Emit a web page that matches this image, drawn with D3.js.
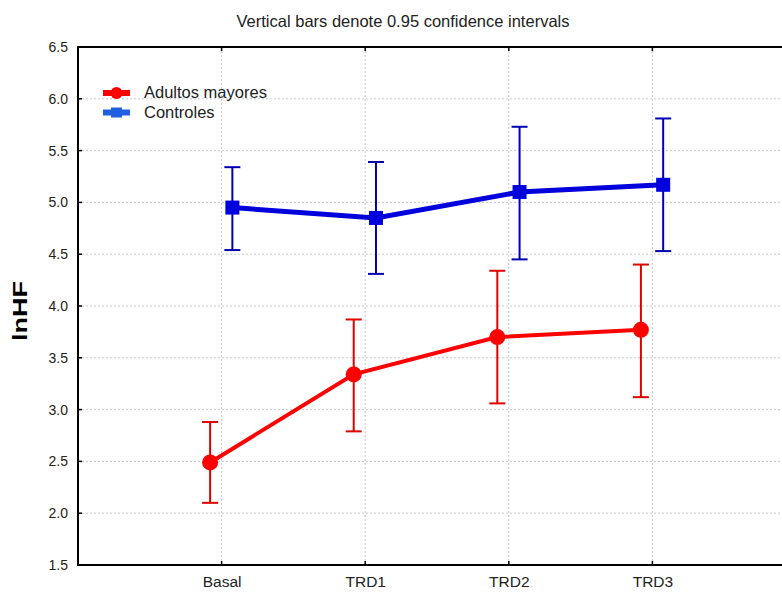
<!DOCTYPE html>
<html>
<head>
<meta charset="utf-8">
<script src="https://cdn.jsdelivr.net/npm/d3@7"></script>
<style>
  html, body { margin: 0; padding: 0; background: #fff; }
  svg { display: block; font-family: "Liberation Sans", Arial, sans-serif; }
</style>
</head>
<body>
<div id="chart"></div>
<script>
/** categories on the x axis */
const categories = ["Basal", "TRD1", "TRD2", "TRD3"];

/** y ticks */
const yTicks = [1.5, 2.0, 2.5, 3.0, 3.5, 4.0, 4.5, 5.0, 5.5, 6.0, 6.5];

/** Adultos mayores: mean and 0.95 CI */
const adultosMean = [2.49, 3.34, 3.70, 3.77];
const adultosLow = [2.10, 2.79, 3.06, 3.12];
const adultosHigh = [2.88, 3.87, 4.34, 4.40];

/** Controles: mean and 0.95 CI */
const controlesMean = [4.95, 4.85, 5.10, 5.17];
const controlesLow = [4.54, 4.31, 4.45, 4.53];
const controlesHigh = [5.34, 5.39, 5.73, 5.81];

const series = [
  {
    name: "Adultos mayores",
    mean: adultosMean,
    low: adultosLow,
    high: adultosHigh,
    color: "#ff0000",
    barColor: "#e00000",
    shape: "circle",
    dodge: -0.08,
  },
  {
    name: "Controles",
    mean: controlesMean,
    low: controlesLow,
    high: controlesHigh,
    color: "#0000dd",
    barColor: "#0000b0",
    shape: "square",
    dodge: 0.075,
  },
];

const width = 782;
const height = 594;
const plotLeft = 78;
const plotTop = 47;
const plotBottom = 565;

const svg = d3
  .select("#chart")
  .append("svg")
  .attr("width", width)
  .attr("height", height);

/** x transform: categories sit at 1..4 on a 0..5 axis */
const xScale = d3.scaleLinear().domain([0, 5]).range([plotLeft, 796]);

/** y transform */
const yScale = d3.scaleLinear().domain([1.5, 6.5]).range([plotBottom, plotTop]);

/** grid */
svg
  .append("g")
  .selectAll("line")
  .data(yTicks.slice(1, -1))
  .join("line")
  .attr("x1", plotLeft)
  .attr("x2", width)
  .attr("y1", (d) => yScale(d))
  .attr("y2", (d) => yScale(d))
  .attr("stroke", "#c8c8c8")
  .attr("stroke-dasharray", "2,2");
svg
  .append("g")
  .selectAll("line")
  .data(categories)
  .join("line")
  .attr("x1", (d, i) => xScale(i + 1))
  .attr("x2", (d, i) => xScale(i + 1))
  .attr("y1", plotTop)
  .attr("y2", plotBottom)
  .attr("stroke", "#c8c8c8")
  .attr("stroke-dasharray", "2,2");

/** axes */
const yAxis = d3
  .axisLeft(yScale)
  .tickValues(yTicks)
  .tickFormat(d3.format(".1f"))
  .tickSize(0)
  .tickPadding(10);
const gy = svg.append("g").attr("transform", `translate(${plotLeft},0)`).call(yAxis);
gy.select(".domain").remove();
gy.selectAll("text").attr("font-size", 14).attr("fill", "#222");

const xAxis = d3
  .axisBottom(xScale)
  .tickValues([1, 2, 3, 4])
  .tickFormat((d) => categories[d - 1])
  .tickSize(0)
  .tickPadding(11);
const gx = svg.append("g").attr("transform", `translate(0,${plotBottom})`).call(xAxis);
gx.select(".domain").remove();
gx.selectAll("text").attr("font-size", 15.5).attr("fill", "#222");

/** small inward ticks */
svg
  .append("g")
  .selectAll("line")
  .data([1, 2, 3, 4])
  .join("line")
  .attr("x1", (d) => xScale(d))
  .attr("x2", (d) => xScale(d))
  .attr("y1", plotTop)
  .attr("y2", plotTop + 4)
  .attr("stroke", "#000")
  .attr("stroke-width", 1.5);
svg
  .append("g")
  .selectAll("line")
  .data([1, 2, 3, 4])
  .join("line")
  .attr("x1", (d) => xScale(d))
  .attr("x2", (d) => xScale(d))
  .attr("y1", plotBottom)
  .attr("y2", plotBottom - 4)
  .attr("stroke", "#000")
  .attr("stroke-width", 1.5);
svg
  .append("g")
  .selectAll("line")
  .data(yTicks)
  .join("line")
  .attr("x1", plotLeft)
  .attr("x2", plotLeft + 4)
  .attr("y1", (d) => yScale(d))
  .attr("y2", (d) => yScale(d))
  .attr("stroke", "#000")
  .attr("stroke-width", 1.5);

/** frame */
svg
  .append("path")
  .attr("d", `M${width},${plotTop}H${plotLeft}V${plotBottom}H${width}`)
  .attr("fill", "none")
  .attr("stroke", "#000")
  .attr("stroke-width", 2);

/** series */
const line = d3
  .line()
  .x((d) => d.x)
  .y((d) => d.y);

for (const s of series) {
  const pts = s.mean.map((m, i) => ({
    x: xScale(i + 1 + s.dodge),
    y: yScale(m),
    lo: yScale(s.low[i]),
    hi: yScale(s.high[i]),
  }));
  const g = svg.append("g");

  /** error bars */
  const bars = g.append("g").attr("stroke", s.barColor).attr("stroke-width", 2);
  for (const p of pts) {
    bars.append("line").attr("x1", p.x).attr("x2", p.x).attr("y1", p.hi).attr("y2", p.lo);
    bars.append("line").attr("x1", p.x - 8).attr("x2", p.x + 8).attr("y1", p.hi).attr("y2", p.hi);
    bars.append("line").attr("x1", p.x - 8).attr("x2", p.x + 8).attr("y1", p.lo).attr("y2", p.lo);
  }

  /** connecting line */
  g.append("path")
    .attr("d", line(pts))
    .attr("fill", "none")
    .attr("stroke", s.color)
    .attr("stroke-width", s.shape === "square" ? 5 : 4);

  /** markers */
  if (s.shape === "circle")
    g.selectAll("circle")
      .data(pts)
      .join("circle")
      .attr("cx", (d) => d.x)
      .attr("cy", (d) => d.y)
      .attr("r", 8)
      .attr("fill", s.color);
  else
    g.selectAll("rect")
      .data(pts)
      .join("rect")
      .attr("x", (d) => d.x - 7)
      .attr("y", (d) => d.y - 7)
      .attr("width", 14)
      .attr("height", 14)
      .attr("fill", s.color);
}

/** legend */
const legend = svg.append("g").attr("transform", "translate(103,93)");
series.forEach((s, i) => {
  const row = legend.append("g").attr("transform", `translate(0,${i * 19.5})`);
  row.append("line")
    .attr("x1", 0)
    .attr("x2", 27)
    .attr("stroke", s.shape === "circle" ? s.color : "#2060e0")
    .attr("stroke-width", 6);
  if (s.shape === "circle")
    row.append("circle").attr("cx", 13.5).attr("r", 6).attr("fill", s.color);
  else
    row.append("rect").attr("x", 8).attr("y", -5).attr("width", 11).attr("height", 10).attr("fill", "#2060e0");
  row.append("text")
    .attr("x", 41)
    .attr("dy", "0.33em")
    .attr("font-size", 16.5)
    .attr("fill", "#222")
    .text(s.name);
});

/** title */
svg
  .append("text")
  .attr("x", 403)
  .attr("y", 27)
  .attr("text-anchor", "middle")
  .attr("font-size", 16.5)
  .attr("fill", "#222")
  .text("Vertical bars denote 0.95 confidence intervals");

/** y label */
svg
  .append("text")
  .attr("transform", "translate(27,311) rotate(-90)")
  .attr("text-anchor", "middle")
  .attr("font-size", 20)
  .attr("font-weight", "bold")
  .attr("textLength", 60)
  .attr("lengthAdjust", "spacingAndGlyphs")
  .text("lnHF");
</script>
</body>
</html>
